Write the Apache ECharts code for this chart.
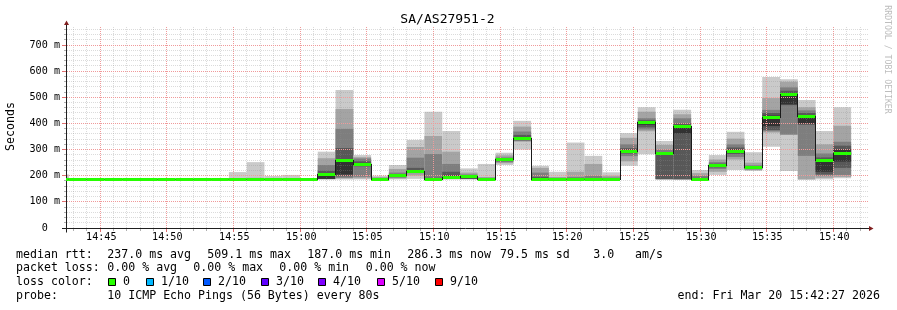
<!DOCTYPE html>
<html>
<head>
<meta charset="utf-8">
<title>SA/AS27951-2</title>
<script src="https://cdn.jsdelivr.net/npm/echarts@6.0.0/dist/echarts.min.js"></script>
<style>
html,body{margin:0;padding:0;background:#ffffff;}
#chart{width:897px;height:310px;}
</style>
</head>
<body>
<div id="chart"></div>
<script>
// ---------------- data ----------------
const chartTitle = 'SA/AS27951-2';
const startTime = '14:42:27';
const endTime = '15:42:27';
const stepSeconds = 80;

// end time of every 80 s step (the first one is only partly inside the window)
const stepEnd = [
  '14:42:40','14:44:00','14:45:20','14:46:40','14:48:00','14:49:20','14:50:40','14:52:00',
  '14:53:20','14:54:40','14:56:00','14:57:20','14:58:40','15:00:00','15:01:20','15:02:40',
  '15:04:00','15:05:20','15:06:40','15:08:00','15:09:20','15:10:40','15:12:00','15:13:20',
  '15:14:40','15:16:00','15:17:20','15:18:40','15:20:00','15:21:20','15:22:40','15:24:00',
  '15:25:20','15:26:40','15:28:00','15:29:20','15:30:40','15:32:00','15:33:20','15:34:40',
  '15:36:00','15:37:20','15:38:40','15:40:00','15:41:20'
];

// median rtt of every step (ms)
const medianRtt = [
  187,187,187,187,187,187,187,187,187,187,187,187,187,187,187,
  205,258,242,187,200,215,187,195,197,187,
  262,343,187,187,187,187,187,294,405,284,
  388,187,239,294,231,422,509.1,425,258,286.3
];

// the 10 sorted ping rtts of every step (ms) -> smoke
const smokePings = [
  [186,186,187,187,187,187,187,188,192,205],
  [186,186,186,187,187,187,187,187,188,188],
  [186,186,186,187,187,187,187,187,188,188],
  [186,186,186,187,187,187,187,187,188,188],
  [186,186,186,187,187,187,187,187,188,188],
  [186,186,186,187,187,187,187,187,188,188],
  [186,186,186,187,187,187,187,187,188,188],
  [186,186,186,187,187,187,187,187,188,188],
  [186,186,186,187,187,187,187,187,188,188],
  [186,186,186,187,187,187,187,187,188,188],
  [186,186,187,187,187,187,187,188,190,214],
  [186,186,187,187,187,187,188,189,192,252],
  [186,186,187,187,187,187,187,188,189,199],
  [186,186,187,187,187,187,187,188,190,203],
  [186,186,186,187,187,187,187,187,188,189],
  [186,187,187,188,188,208,219,241,267,292],
  [186,189,192,198,205,262,306,379,455,528],
  [186,190,196,236,238,248,255,266,271,279],
  [186,186,187,187,187,187,188,190,195,200],
  [186,189,192,195,198,202,205,212,226,241],
  [188,200,210,212,213,220,230,269,310,337],
  [186,186,186,186,187,189,192,283,352,445],
  [186,187,188,190,192,200,215,245,292,371],
  [186,187,188,189,190,200,202,205,212,228],
  [186,186,187,187,187,188,190,192,195,245],
  [241,248,252,256,259,264,266,270,278,288],
  [300,330,333,336,340,348,356,369,388,410],
  [186,186,187,187,187,190,195,212,230,238],
  [186,186,187,187,187,188,190,192,195,215],
  [186,186,187,187,187,188,190,195,215,327],
  [186,186,187,187,187,188,190,200,245,276],
  [186,186,187,187,187,188,190,193,200,213],
  [238,255,275,285,290,299,305,320,345,363],
  [282,370,377,385,395,408,412,420,445,462],
  [186,186,187,187,280,288,290,300,318,333],
  [186,186,186,187,362,392,400,420,435,452],
  [186,186,187,187,187,188,192,200,210,222],
  [203,215,226,232,236,242,246,252,262,279],
  [222,262,272,283,290,300,308,320,342,368],
  [218,222,224,226,228,233,235,240,250,290],
  [311,365,370,375,390,430,440,452,497,578],
  [218,356,358,470,473,515,525,538,560,569],
  [186,186,276,395,400,430,440,450,462,490],
  [186,192,200,205,215,262,270,285,320,371],
  [190,195,203,230,254,300,315,330,391,462]
];

const yMax = 769;
const yTickValues = [0,100,200,300,400,500,600,700];
const yTickLabels = ['0  ','100 m','200 m','300 m','400 m','500 m','600 m','700 m'];
const xTickLabels = ['14:45','14:50','14:55','15:00','15:05','15:10','15:15','15:20','15:25','15:30','15:35','15:40'];
const yMinorStep = 20;
const xMinorStep = 60;

const lossLabels = ['0','1/10','2/10','3/10','4/10','5/10','9/10'];
const lossColors = ['#26ff00','#00b8ff','#0059ff','#5e00ff','#7e00ff','#dd00ff','#ff0000'];
const smokeColors = ['#cacaca','#a4a4a4','#7e7e7e','#585858','#323232'];

const statLine1 = [['median rtt:',16],['237.0 ms avg',107.3],['509.1 ms max',207.3],['187.0 ms min',307.3],['286.3 ms now',407.3],['79.5 ms sd',500],['3.0',593.3],['am/s',635]];
const statLine2 = [['packet loss:',16],['0.00 % avg',107.3],['0.00 % max',193.3],['0.00 % min',279.3],['0.00 % now',365.7]];
const probeText = '10 ICMP Echo Pings (56 Bytes) every 80s';
const endText = 'end: Fri Mar 20 15:42:27 2026';
const watermark = 'RRDTOOL / TOBI OETIKER';

// ---------------- styles ----------------
const FONT = '"DejaVu Sans Mono", "Liberation Mono", monospace';
const GRID = 'rgba(143,143,143,0.32)';
const GRID_TICK = 'rgba(143,143,143,0.7)';
const MGRID = '#f09a9a';
const MGRID_TICK = '#e07070';
const AXIS = '#1f1f1f';
const ARROW = '#801f1f';

// ---------------- build ----------------
const toSec = s => { const p = s.split(':').map(Number); return p[0]*3600 + p[1]*60 + (p[2] || 0); };
const xMin = toSec(startTime), xMax = toSec(endTime);

const stepRows = stepEnd.map((e, i) => {
  const t1 = toSec(e);
  return [t1 - stepSeconds, t1, medianRtt[i], medianRtt[i > 0 ? i - 1 : 0]].concat(smokePings[i]);
});

const xMajor = xTickLabels.map(toSec);
const gridRows = [];
for (let t = Math.ceil(xMin / xMinorStep) * xMinorStep; t < xMax; t += xMinorStep) {
  gridRows.push([t, 0, xMajor.indexOf(t) >= 0 ? 1 : 0]);
}
for (let v = yMinorStep; v < yMax; v += yMinorStep) {
  gridRows.push([v, 1, yTickValues.indexOf(v) >= 0 ? 1 : 0]);
}

function clipRect(x1, y1, x2, y2, cs) {
  const l = Math.max(Math.min(x1, x2), cs.x), r = Math.min(Math.max(x1, x2), cs.x + cs.width);
  const t = Math.max(Math.min(y1, y2), cs.y), b = Math.min(Math.max(y1, y2), cs.y + cs.height);
  return (r > l && b > t) ? {x: l, y: t, width: r - l, height: b - t} : null;
}

function txt(x, y, text, size, opts) {
  opts = opts || {};
  const align = opts.align || 'left';
  const va = opts.va || 'middle';
  return {
    type: 'text', x: x, y: y, rotation: opts.rotation || 0, silent: true,
    style: {
      text: text, fill: opts.fill || '#000000', font: size + 'px ' + FONT,
      align: align, textAlign: align, verticalAlign: va, textVerticalAlign: va
    }
  };
}

function renderSmoke(params, api) {
  const cs = params.coordSys;
  const t0 = api.value(0), t1 = api.value(1);
  const kids = [];
  for (let b = 0; b < 5; b++) {
    const lo = api.value(4 + b), hi = api.value(13 - b);
    if (hi <= lo) continue;
    const a = api.coord([t0, hi]), c = api.coord([t1, lo]);
    const r = clipRect(a[0], a[1], c[0], c[1], cs);
    if (r) kids.push({type: 'rect', shape: r, style: {fill: smokeColors[b]}});
  }
  return {type: 'group', children: kids};
}

function renderGrid(params, api) {
  const cs = params.coordSys;
  const v = api.value(0), orient = api.value(1), major = api.value(2) === 1;
  const col = major ? MGRID : GRID, tcol = major ? MGRID_TICK : GRID_TICK;
  if (orient === 0) {
    const x = Math.floor(api.coord([v, 0])[0] + 1e-6) + 0.5;
    const yb = cs.y + cs.height;
    return {type: 'group', children: [
      {type: 'line', shape: {x1: x, y1: cs.y, x2: x, y2: yb}, style: {stroke: col, lineWidth: 1, lineDash: [1, 1]}},
      {type: 'line', shape: {x1: x, y1: yb + 1, x2: x, y2: yb + (major ? 4 : 3)}, style: {stroke: tcol, lineWidth: 1}}
    ]};
  }
  const y = Math.floor(api.coord([xMin, v])[1] + 1e-6) + 0.5;
  return {type: 'group', children: [
    {type: 'line', shape: {x1: cs.x + 1, y1: y, x2: cs.x + cs.width + 2, y2: y}, style: {stroke: col, lineWidth: 1, lineDash: [1, 1]}},
    {type: 'line', shape: {x1: cs.x - (major ? 4 : 2), y1: y, x2: cs.x, y2: y}, style: {stroke: tcol, lineWidth: 1}}
  ]};
}

function renderAxes(params, api) {
  const cs = params.coordSys;
  const x0 = Math.floor(cs.x) + 0.5;
  const yb = Math.floor(cs.y + cs.height) + 0.5;
  const xr = cs.x + cs.width, yt = cs.y;
  return {type: 'group', children: [
    {type: 'line', shape: {x1: cs.x - 4, y1: yb, x2: xr + 3, y2: yb}, style: {stroke: AXIS, lineWidth: 1}},
    {type: 'line', shape: {x1: x0, y1: yb + 4, x2: x0, y2: yt - 2}, style: {stroke: AXIS, lineWidth: 1}},
    {type: 'polygon', shape: {points: [[xr + 3, yb - 2.5], [xr + 7.5, yb], [xr + 3, yb + 2.5]]}, style: {fill: ARROW}},
    {type: 'polygon', shape: {points: [[x0 - 2.5, yt - 2], [x0, yt - 6.5], [x0 + 2.5, yt - 2]]}, style: {fill: ARROW}}
  ]};
}

function renderMedian(params, api) {
  const cs = params.coordSys;
  const t0 = api.value(0), t1 = api.value(1), m = api.value(2), pm = api.value(3);
  const a = api.coord([t0, m]), b = api.coord([t1, m]), p = api.coord([t0, pm]);
  const xl = Math.max(a[0], cs.x), xr = Math.min(b[0], cs.x + cs.width);
  if (xr <= xl) return null;
  const row = Math.floor(a[1]);
  const prow = Math.floor(p[1]);
  const kids = [
    {type: 'line', shape: {x1: xl, y1: row + 0.5, x2: xr, y2: row + 0.5}, style: {stroke: '#1a1a1a', lineWidth: 1}},
    {type: 'rect', shape: {x: xl, y: row - 1, width: xr - xl, height: 3}, style: {fill: lossColors[0]}}
  ];
  if (a[0] >= cs.x && prow !== row) {
    const vx = Math.floor(a[0]) + 0.5;
    kids.push({type: 'line', shape: {x1: vx, y1: Math.min(row, prow), x2: vx, y2: Math.max(row, prow) + 1}, style: {stroke: '#1a1a1a', lineWidth: 1}});
  }
  return {type: 'group', children: kids};
}

function renderXLabel(params, api) {
  const cs = params.coordSys;
  const x = Math.floor(api.coord([api.value(0), 0])[0] + 1e-6) + 1.3;
  return txt(x, cs.y + cs.height + 9, xTickLabels[params.dataIndex], 10.15, {align: 'center'});
}

function renderYLabel(params, api) {
  const cs = params.coordSys;
  const y = Math.floor(api.coord([xMin, api.value(1)])[1] + 1e-6) + 0.5;
  return txt(cs.x - 6, y, yTickLabels[params.dataIndex], 10.15, {align: 'right'});
}

// static texts
const graphics = [];
graphics.push(txt(447.5, 20, chartTitle, 13.05, {align: 'center'}));
graphics.push(txt(11, 126.5, 'Seconds', 11.6, {align: 'center', rotation: Math.PI / 2}));
graphics.push(txt(887.5, 59.5, watermark, 8.2, {align: 'center', rotation: -Math.PI / 2, fill: '#bdbdbd'}));
statLine1.forEach(s => graphics.push(txt(s[1], 254.5, s[0], 11.6)));
statLine2.forEach(s => graphics.push(txt(s[1], 268.3, s[0], 11.6)));
graphics.push(txt(16, 282.2, 'loss color:', 11.6));
const swatchX = [108, 146, 203, 261, 318, 377, 435];
lossLabels.forEach((l, i) => {
  graphics.push({type: 'rect', silent: true, shape: {x: swatchX[i] + 0.5, y: 278.5, width: 7, height: 7},
    style: {fill: lossColors[i], stroke: '#000000', lineWidth: 1}});
  graphics.push(txt(swatchX[i] + 15, 282.2, l, 11.6));
});
graphics.push(txt(16, 296, 'probe:', 11.6));
graphics.push(txt(107.3, 296, probeText, 11.6));
graphics.push(txt(880, 296, endText, 11.6, {align: 'right'}));

const chart = echarts.init(document.getElementById('chart'), null, {renderer: 'canvas', width: 897, height: 310});
chart.setOption({
  animation: false,
  backgroundColor: '#ffffff',
  grid: {left: 66, top: 27, width: 800, height: 201, containLabel: false, outerBoundsMode: 'none'},
  xAxis: {type: 'value', min: xMin, max: xMax, show: false},
  yAxis: {type: 'value', min: 0, max: yMax, show: false},
  graphic: {elements: graphics},
  series: [
    {type: 'custom', name: 'smoke', z: 1, silent: true, clip: false, renderItem: renderSmoke, data: stepRows},
    {type: 'custom', name: 'grid', z: 2, silent: true, clip: false, renderItem: renderGrid, data: gridRows},
    {type: 'custom', name: 'axes', z: 3, silent: true, clip: false, renderItem: renderAxes, data: [[xMin, 0]]},
    {type: 'custom', name: 'median', z: 4, silent: true, clip: false, renderItem: renderMedian, data: stepRows},
    {type: 'custom', name: 'xlabels', z: 5, silent: true, clip: false, renderItem: renderXLabel, data: xMajor.map(t => [t, 0])},
    {type: 'custom', name: 'ylabels', z: 5, silent: true, clip: false, renderItem: renderYLabel, data: yTickValues.map(v => [xMin, v])}
  ]
});
</script>
</body>
</html>
